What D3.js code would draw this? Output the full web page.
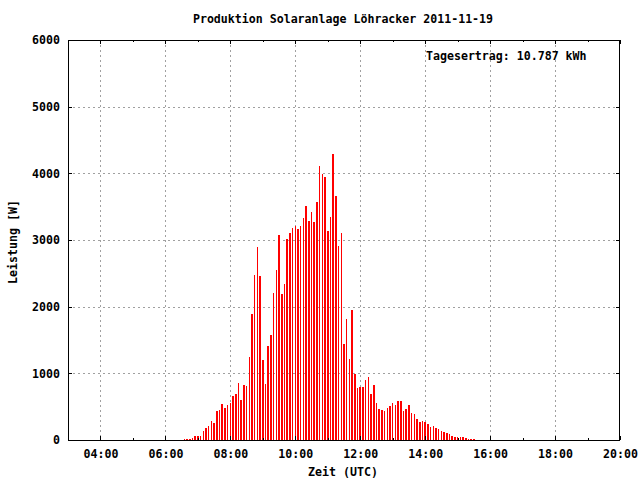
<!DOCTYPE html>
<html><head><meta charset="utf-8">
<script src="https://cdn.jsdelivr.net/npm/d3@7"></script>
<style>body{margin:0;background:#fff}svg{display:block}</style>
</head><body><svg id="c" width="640" height="480"></svg>
<script>
const title = "Produktion Solaranlage Löhracker 2011-11-19";
const xLabel = "Zeit (UTC)";
const yLabel = "Leistung [W]";
const yieldLabel = "Tagesertrag: 10.787 kWh";
const day = "2011-11-19";
const times = ["06:35","06:40","06:45","06:50","06:55","07:00","07:05","07:10","07:15","07:20","07:25","07:30","07:35","07:40","07:45","07:50","07:55","08:00","08:05","08:10","08:15","08:20","08:25","08:30","08:35","08:40","08:45","08:50","08:55","09:00","09:05","09:10","09:15","09:20","09:25","09:30","09:35","09:40","09:45","09:50","09:55","10:00","10:05","10:10","10:15","10:20","10:25","10:30","10:35","10:40","10:45","10:50","10:55","11:00","11:05","11:10","11:15","11:20","11:25","11:30","11:35","11:40","11:45","11:50","11:55","12:00","12:05","12:10","12:15","12:20","12:25","12:30","12:35","12:40","12:45","12:50","12:55","13:00","13:05","13:10","13:15","13:20","13:25","13:30","13:35","13:40","13:45","13:50","13:55","14:00","14:05","14:10","14:15","14:20","14:25","14:30","14:35","14:40","14:45","14:50","14:55","15:00","15:05","15:10","15:15","15:20","15:25","15:30"];
const power = [20,20,20,35,65,65,65,140,185,215,290,260,440,455,540,480,525,555,660,690,855,600,825,810,1245,1885,2470,2900,2460,1200,840,1410,1575,2205,2550,3075,2190,2340,3015,3105,3180,3210,3165,3210,3330,3510,3285,3420,3270,3570,4110,3990,3945,3135,3345,4290,3660,2910,3105,1440,1815,1215,1950,990,780,795,795,900,945,690,825,555,465,450,435,480,510,555,525,585,585,435,465,525,405,390,315,270,285,270,240,195,210,180,165,135,120,105,90,60,45,45,45,45,30,15,15,15];
const xMajorTicks = ["04:00","06:00","08:00","10:00","12:00","14:00","16:00","18:00","20:00"];
const xMinorTicks = ["03:00","05:00","07:00","09:00","11:00","13:00","15:00","17:00","19:00"];
const yTicks = [0,1000,2000,3000,4000,5000,6000];

const parse = d3.utcParse("%Y-%m-%d %H:%M");
const t = s => parse(day + " " + s);
const L = 68, R = 620, T = 40, B = 440;
const x = d3.scaleUtc().domain([t("03:00"), t("20:00")]).range([L, R]);
const y = d3.scaleLinear().domain([0, 6000]).range([B, T]);
const font = "'DejaVu Sans Mono', monospace";
const svg = d3.select("#c");
svg.append("rect").attr("width",640).attr("height",480).attr("fill","#fff");

const grid = svg.append("g").attr("stroke","#a0a0a0").attr("stroke-width",1)
  .attr("stroke-dasharray","2,3").attr("shape-rendering","crispEdges");
grid.selectAll(".gx").data(xMajorTicks.filter(d => d !== "20:00")).join("line")
  .attr("x1", d => Math.round(x(t(d))) + 0.5).attr("x2", d => Math.round(x(t(d))) + 0.5)
  .attr("y1", T).attr("y2", B);
grid.selectAll(".gy").data(yTicks.filter(d => d > 0 && d < 6000)).join("line")
  .attr("y1", d => Math.round(y(d)) + 0.5).attr("y2", d => Math.round(y(d)) + 0.5)
  .attr("x1", L).attr("x2", R);

svg.append("g").attr("stroke","#ff0000").attr("stroke-width",1.5).attr("shape-rendering","crispEdges")
  .selectAll("line").data(times.map((d,i)=>({t:t(d), v:power[i]}))).join("line")
  .attr("x1", d => x(d.t)).attr("x2", d => x(d.t))
  .attr("y1", y(0)).attr("y2", d => y(d.v));

// axes with ticks
svg.append("g").attr("transform", `translate(0,${B})`)
  .call(d3.axisBottom(x).tickValues(xMajorTicks.map(t)).tickFormat(d3.utcFormat("%H:%M")).tickSizeInner(-4).tickSizeOuter(0).tickPadding(10));
svg.append("g").attr("transform", `translate(0,${B})`)
  .call(d3.axisBottom(x).tickValues(xMinorTicks.map(t)).tickFormat("").tickSizeInner(-2).tickSizeOuter(0));
svg.append("g").attr("transform", `translate(0,${T})`)
  .call(d3.axisTop(x).tickValues(xMajorTicks.map(t)).tickFormat("").tickSizeInner(-4).tickSizeOuter(0));
svg.append("g").attr("transform", `translate(0,${T})`)
  .call(d3.axisTop(x).tickValues(xMinorTicks.map(t)).tickFormat("").tickSizeInner(-2).tickSizeOuter(0));
svg.append("g").attr("transform", `translate(${L},0)`)
  .call(d3.axisLeft(y).tickValues(yTicks).tickFormat(d3.format("d")).tickSizeInner(-4).tickSizeOuter(0).tickPadding(8));
svg.append("g").attr("transform", `translate(${R},0)`)
  .call(d3.axisRight(y).tickValues(yTicks).tickFormat("").tickSizeInner(-4).tickSizeOuter(0));
svg.selectAll(".domain").remove();
svg.selectAll(".tick line").attr("stroke","#000").attr("shape-rendering","crispEdges");
svg.selectAll(".tick text").attr("font-family", font).attr("font-weight","bold").attr("font-size","11.6px").attr("fill","#000");

svg.append("rect").attr("x", L + 0.5).attr("y", T + 0.5).attr("width", R - L - 1).attr("height", B - T)
  .attr("fill","none").attr("stroke","#000").attr("shape-rendering","crispEdges");

const txt = (s, xx, yy, anchor) => svg.append("text").text(s).attr("x", xx).attr("y", yy)
  .attr("text-anchor", anchor).attr("font-family", font).attr("font-weight","bold")
  .attr("font-size","11.6px").attr("fill","#000");
txt(title, 343, 23, "middle");
txt(xLabel, 343, 476, "middle");
txt(yieldLabel, 426, 60, "start");
txt(yLabel, 0, 0, "middle").attr("transform", "translate(17,242) rotate(-90)");
</script></body></html>
